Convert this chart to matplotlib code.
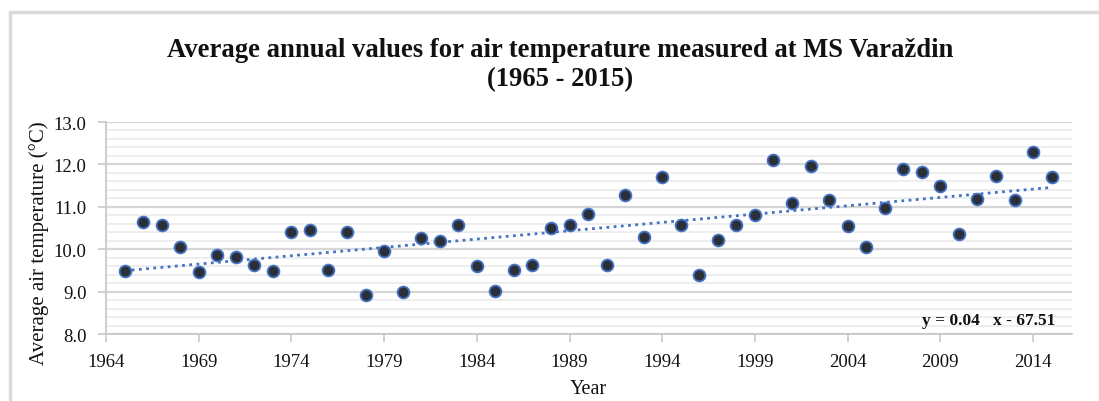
import numpy as np
import matplotlib
matplotlib.use("Agg")
import matplotlib.pyplot as plt
from matplotlib.patches import Rectangle
from matplotlib.ticker import MultipleLocator, FormatStrFormatter

years = list(range(1965, 2016))
temps = [9.48, 10.64, 10.57, 10.06, 9.46, 9.86, 9.82, 9.62, 9.49, 10.40,
         10.45, 9.51, 10.40, 8.93, 9.95, 8.98, 10.26, 10.19, 10.58, 9.60,
         9.01, 9.50, 9.63, 10.50, 10.58, 10.83, 9.63, 11.27, 10.28, 11.70,
         10.56, 9.40, 10.21, 10.56, 10.80, 12.11, 11.09, 11.96, 11.15, 10.54,
         10.06, 10.97, 11.90, 11.81, 11.49, 10.36, 11.19, 11.72, 11.15, 12.29,
         11.70]
x_ticks = [1964, 1969, 1974, 1979, 1984, 1989, 1994, 1999, 2004, 2009, 2014]
title = "Average annual values for air temperature measured at MS Varaždin\n(1965 - 2015)"
eq_text = "y = 0.04   x - 67.51"

W, H = 1099, 402
fig = plt.figure(figsize=(W/100, H/100), dpi=100)
plt.rcParams['font.family'] = ['Liberation Serif', 'DejaVu Serif']

def fx(px): return px / W
def fy(py): return 1 - py / H

# frame
fig.patches.append(Rectangle((fx(10), fy(500)), 2, fy(13) - fy(500), transform=fig.transFigure,
                             fill=False, edgecolor='#dadada', linewidth=2.5))

ax = fig.add_axes([fx(106), fy(335), fx(1072) - fx(106), fy(123) - fy(335)])
ax.set_xlim(1964, 2016.1)
ax.set_ylim(8.0, 13.0)
ax.set_xticks(x_ticks)
ax.yaxis.set_major_locator(MultipleLocator(1.0))
ax.yaxis.set_minor_locator(MultipleLocator(0.2))
ax.yaxis.set_major_formatter(FormatStrFormatter('%.1f'))
ax.grid(which='major', axis='y', color='#d6d6d6', linewidth=1.6)
ax.grid(which='minor', axis='y', color='#eeeeee', linewidth=1.4)
ax.set_axisbelow(True)
for s in ['top', 'right']:
    ax.spines[s].set_visible(False)
ax.spines['left'].set_color('#c8c8c8')
ax.spines['bottom'].set_color('#c8c8c8')
ax.spines['left'].set_linewidth(1.3)
ax.spines['bottom'].set_linewidth(1.3)
ax.tick_params(axis='both', which='major', length=6, color='#c8c8c8', width=1.2,
               labelsize=13.5, labelcolor='#111111')
ax.tick_params(axis='x', which='major', pad=8)
ax.tick_params(axis='y', which='minor', length=0)
ax.tick_params(axis='y', which='major', pad=8)

# trend
coef = np.polyfit(years, temps, 1)
xt = np.array([years[0], years[-1]])
ax.plot(xt, np.polyval(coef, xt), linestyle=(0, (1, 1.6)), color='#4472C4', linewidth=2.0, zorder=2)

ax.plot(years, temps, linestyle='none', marker='o', markersize=8.5,
        markerfacecolor='#2b2f38', markeredgecolor='#4472C4', markeredgewidth=1.3, zorder=3)

ax.text(fx(1055), fy(321), eq_text, transform=fig.transFigure, ha='right', va='center',
        fontsize=12.5, fontweight='bold', color='#111111')

fig.text(fx(560), fy(65), title, ha='center', va='center', fontsize=19.2,
         fontweight='bold', linespacing=1.25, color='#111111')
fig.text(fx(39), fy(243), "Average air temperature (°C)", rotation=90, ha='center', va='center',
         fontsize=15, color='#111111')
fig.text(fx(588), fy(390), "Year", ha='center', va='center', fontsize=14.5, color='#111111')

fig.savefig('out.png', dpi=100)
